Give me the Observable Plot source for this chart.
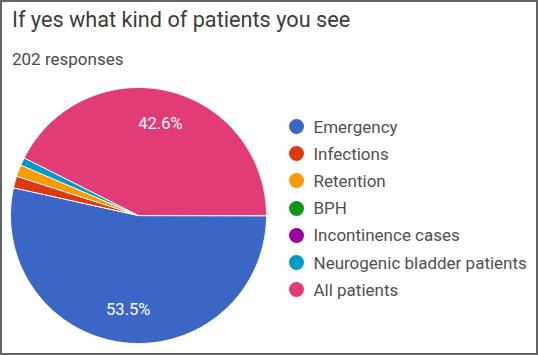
<!DOCTYPE html>
<html><head><meta charset="utf-8">
<script src="https://cdn.jsdelivr.net/npm/d3@7"></script>
<script src="https://cdn.jsdelivr.net/npm/@observablehq/plot@0.6"></script>
<style>
html,body{margin:0;padding:0;background:#fff;}
#frame{position:relative;width:538px;height:355px;box-sizing:border-box;border:2px solid #646464;overflow:hidden;font-family:Roboto,"Noto Sans",sans-serif;background:#fff;}
#title{position:absolute;left:10px;top:6.5px;font-size:21.7px;line-height:21.7px;color:#3c3c3c;white-space:nowrap;}
#sub{position:absolute;left:10px;top:49px;font-size:17px;line-height:17px;color:#4a4a4a;white-space:nowrap;}
#pie{position:absolute;left:6px;top:83px;}
#legend{position:absolute;left:287px;top:111px;font-size:17px;color:#505050;}
.row{display:flex;align-items:center;height:27.2px;white-space:nowrap;}
.sw{width:15px;height:15px;border-radius:50%;margin-right:9.5px;flex:none;}
</style></head><body>
<div id="frame">
  <div id="title"></div>
  <div id="sub"></div>
  <div id="pie"></div>
  <div id="legend"></div>
</div>
<script>
const title = "If yes what kind of patients you see";
const subtitle = "202 responses";
const categories = ["Emergency","Infections","Retention","BPH","Incontinence cases","Neurogenic bladder patients","All patients"];
const counts = [108, 3, 3, 0, 0, 2, 86];
const colors = ["#3b66c6","#dc3912","#ff9900","#109618","#990099","#0099c6","#e23c77"];

document.getElementById("title").textContent = title;
document.getElementById("sub").textContent = subtitle;

const total = d3.sum(counts);
const data = categories.map((c, i) => ({category: c, value: counts[i]}));
const arcs = d3.pie().value(d => d.value).sort(null)
  .startAngle(Math.PI / 2).endAngle(Math.PI / 2 + 2 * Math.PI)(data);

const pt = (a, r) => [r * Math.sin(a), -r * Math.cos(a)];
const features = arcs.filter(a => a.data.value > 0).map(a => {
  const n = Math.max(2, Math.ceil((a.endAngle - a.startAngle) / (Math.PI / 360)));
  const ring = [[0, 0]];
  for (let k = 0; k <= n; k++) ring.push(pt(a.startAngle + (a.endAngle - a.startAngle) * k / n, 1));
  ring.push([0, 0]);
  return {type: "Feature", properties: {category: a.data.category}, geometry: {type: "Polygon", coordinates: [ring]}};
});
const labels = arcs.filter(a => a.data.value / total > 0.05).map(a => {
  const [x, y] = pt((a.startAngle + a.endAngle) / 2, 0.74);
  return {x, y, text: d3.format(".1%")(a.data.value / total)};
});

const chart = Plot.plot({
  width: 260, height: 260, margin: 2,
  projection: {type: "identity", domain: {type: "FeatureCollection", features}},
  color: {domain: categories, range: colors},
  marks: [
    Plot.geo(features, {fill: d => d.properties.category, stroke: "white", strokeWidth: 1}),
    Plot.text(labels, {x: "x", y: "y", text: "text", fill: "white", fontSize: 16.5, fontFamily: "Roboto"})
  ]
});
document.getElementById("pie").appendChild(chart);

const legend = document.getElementById("legend");
categories.forEach((c, i) => {
  const row = document.createElement("div");
  row.className = "row";
  const sw = document.createElement("span");
  sw.className = "sw";
  sw.style.background = colors[i];
  const t = document.createElement("span");
  t.textContent = c;
  row.appendChild(sw); row.appendChild(t);
  legend.appendChild(row);
});
</script>
</body></html>
